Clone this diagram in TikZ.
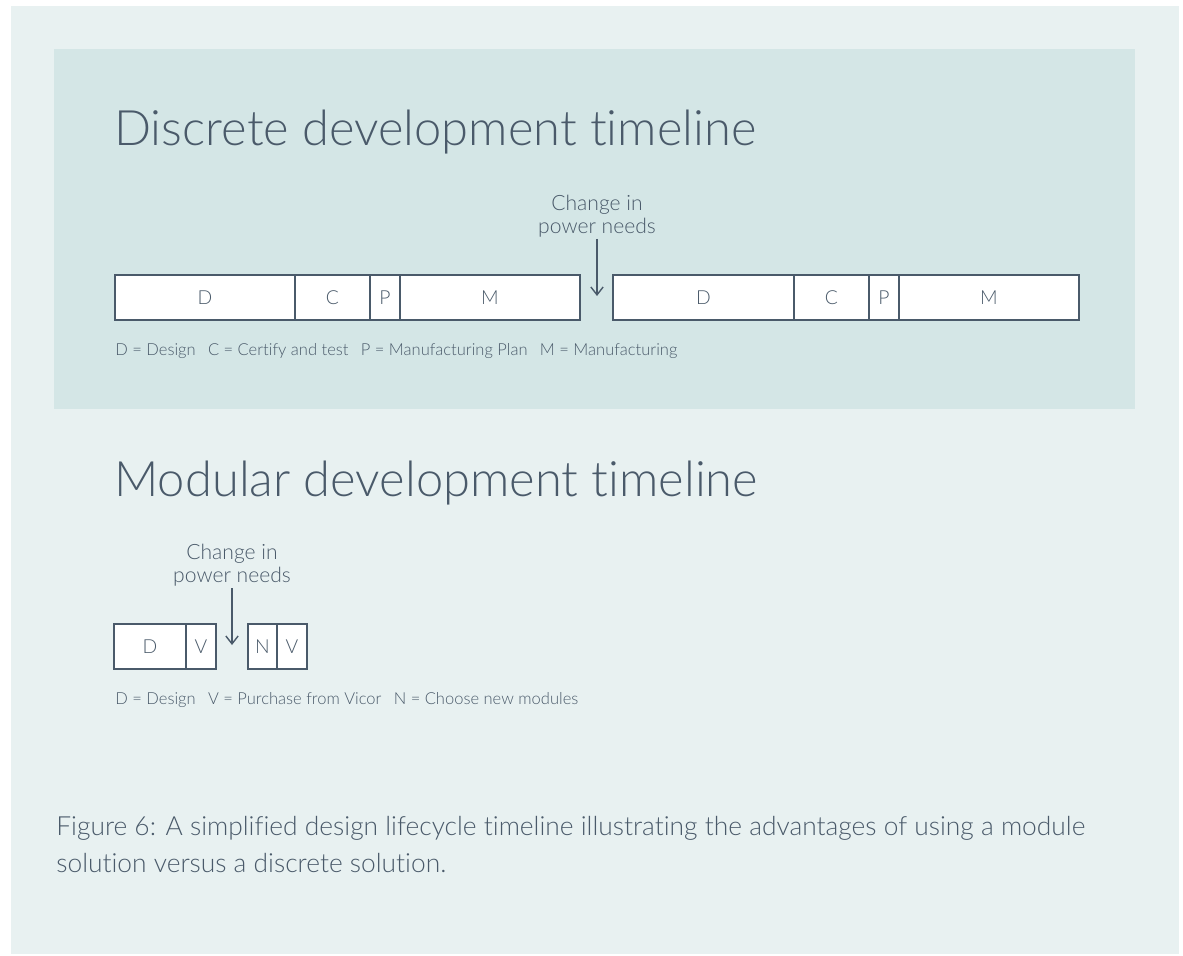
\documentclass[tikz,border=0pt]{standalone}
\usepackage{fontspec}
\setmainfont{Lato}[UprightFont = * Light, Ligatures = NoCommon]
\usetikzlibrary{arrows.meta}

\definecolor{slate}{HTML}{4A5A6A}
\definecolor{outerbg}{HTML}{E8F1F1}
\definecolor{innerbg}{HTML}{D4E6E6}

\newcommand{\titlefont}{\fontsize{27.8}{34}\selectfont}
\newcommand{\boxfont}{\fontsize{11}{13}\selectfont}
\newcommand{\labelfont}{\fontsize{12}{13}\selectfont}
\newcommand{\keyfont}{\fontsize{9.4}{12}\selectfont}
\newcommand{\capfont}{\fontsize{15}{21}\selectfont}
\newcommand{\gap}{\hspace{7pt}}

\tikzset{
    seg/.style = {draw = slate, fill = white, line width = 0.8pt, minimum height = 45*0.02cm,
                  inner sep = 0pt, outer sep = 0pt, text = slate, font = \boxfont},
    change/.style = {align = center, anchor = south, inner sep = 1pt, text = slate, font = \labelfont},
    pointer/.style = {draw = slate, line width = 0.8pt, -{Straight Barb[length = 4.5pt, width = 7pt]}}
}

\begin{document}
\begin{tikzpicture}[x = 0.02cm, y = -0.02cm]
        \fill[white] (0,0) rectangle (1183,956);
        \fill[outerbg] (11,6) rectangle (1179,954);
        \fill[innerbg] (54,49) rectangle (1135,409);
        \begin{scope}[every node/.append style = {text = slate, inner sep = 0pt, anchor = base west}]
            \node[font = \titlefont] (discrete) at (114,146) {Discrete development timeline};
            \node[font = \titlefont] (modular) at (114,496) {Modular development timeline};
            \node[font = \keyfont] (keyone) at (115,355) {D = Design\gap C = Certify and test\gap P = Manufacturing Plan\gap M = Manufacturing};
            \node[font = \keyfont] (keytwo) at (115,704) {D = Design\gap V = Purchase from Vicor\gap N = Choose new modules};
            \node[font = \capfont, align = left] (caption) at (56,872) {Figure 6: A simplified design lifecycle timeline illustrating the advantages of using a module\\solution versus a discrete solution.};
        \end{scope}
        \foreach \name/\lbl/\xa/\ya/\w in {d1/D/115/297.5/180, c1/C/295/297.5/75, p1/P/370/297.5/30, m1/M/400/297.5/180,
                                          d2/D/613/297.5/181, c2/C/794/297.5/75, p2/P/869/297.5/30, m2/M/899/297.5/180,
                                          d3/D/114/646.5/72, v3/V/186/646.5/30, n4/N/248/646.5/29, v4/V/277/646.5/30}
            \node[seg, anchor = west, minimum width = \w*0.02cm] (\name) at (\xa,\ya) {\lbl};
        \node[change] (changeone) at (597,239) {Change in\\power needs};
        \coordinate (tipone) at (597,296);
        \draw[pointer] (changeone) -- (tipone);
        \node[change] (changetwo) at (232,588) {Change in\\power needs};
        \coordinate (tiptwo) at (232,645);
        \draw[pointer] (changetwo) -- (tiptwo);
    \end{tikzpicture}
\end{document}
